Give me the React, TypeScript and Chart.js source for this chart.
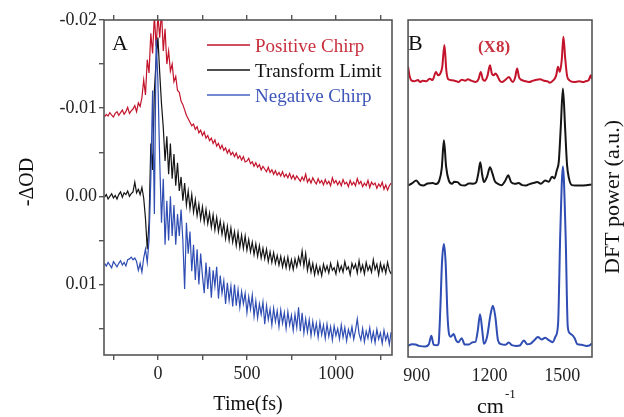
import { useEffect, useRef } from 'react';
import { Chart, registerables } from 'chart.js';

Chart.register(...registerables);

const FONT = "'Liberation Serif', 'Times New Roman', serif";

// ---------- Panel A: transient traces (ΔOD in units of 1e-3) ----------
const timeFs = [
  -300, -290, -280, -270, -260, -250, -240, -230, -220, -210, -200, -190, -180, -170, -160, -150, -140, -130, -120, -110,
  -100, -90, -80, -70, -60, -50, -40, -30, -20, -10, 0, 10, 20, 30, 40, 50, 60, 70, 80, 90,
  100, 110, 120, 130, 140, 150, 160, 170, 180, 190, 200, 210, 220, 230, 240, 250, 260, 270, 280, 290,
  300, 310, 320, 330, 340, 350, 360, 370, 380, 390, 400, 410, 420, 430, 440, 450, 460, 470, 480, 490,
  500, 510, 520, 530, 540, 550, 560, 570, 580, 590, 600, 610, 620, 630, 640, 650, 660, 670, 680, 690,
  700, 710, 720, 730, 740, 750, 760, 770, 780, 790, 800, 810, 820, 830, 840, 850, 860, 870, 880, 890,
  900, 910, 920, 930, 940, 950, 960, 970, 980, 990, 1000, 1010, 1020, 1030, 1040, 1050, 1060, 1070, 1080, 1090,
  1100, 1110, 1120, 1130, 1140, 1150, 1160, 1170, 1180, 1190, 1200, 1210, 1220, 1230, 1240, 1250, 1260, 1270, 1280, 1290,
  1300, 1310,
];

const positiveChirp = [
  -9.0, -9.3, -9.1, -9.5, -9.2, -9.0, -9.4, -9.6, -9.2, -9.5, -9.8, -9.3, -9.6, -10.1, -9.4, -9.7, -9.9, -10.3, -9.6, -10.6,
  -10.2, -11.2, -13.2, -11.5, -15.5, -14.0, -18.5, -16.2, -20.5, -17.0, -20.5, -18.0, -21.0, -16.5, -19.0, -15.0, -16.5, -14.2, -15.0, -13.0,
  -13.6, -12.0, -11.8, -10.8, -10.4, -9.8, -9.2, -8.8, -8.4, -8.0, -8.2, -7.6, -7.9, -7.2, -7.5, -6.9, -7.3, -6.6, -6.9, -6.3,
  -6.6, -6.0, -6.4, -5.7, -6.0, -5.4, -5.8, -5.2, -5.5, -4.9, -5.3, -4.7, -5.0, -4.5, -4.9, -4.3, -4.6, -4.1, -4.5, -3.9,
  -4.0, -4.3, -3.7, -3.9, -3.4, -3.8, -3.3, -3.6, -3.0, -3.4, -3.1, -2.8, -3.3, -2.7, -3.0, -2.5, -2.9, -2.4, -2.7, -2.3,
  -2.8, -2.2, -2.5, -2.1, -2.6, -2.0, -2.4, -1.9, -2.3, -2.0, -1.7, -2.2, -1.8, -2.5, -1.6, -2.0, -1.5, -2.1, -1.7, -1.4,
  -2.0, -1.5, -1.8, -1.3, -1.9, -1.4, -1.7, -1.2, -2.1, -1.5, -1.8, -1.3, -1.7, -1.2, -1.9, -1.4, -1.6, -1.1, -1.8, -1.3,
  -1.6, -1.2, -2.0, -1.4, -1.7, -1.1, -1.5, -1.2, -1.8, -1.0, -1.6, -1.3, -1.5, -0.9, -1.4, -1.1, -1.6, -0.8, -1.3, -0.7,
  -1.2, -1.5,
];

const transformLimit = [
  0.1, -0.2, 0.3, 0.0, -0.3, 0.2, -0.1, 0.3, -0.2, -0.5, 0.1, -0.4, -0.2, -0.6, 0.0, -0.3, -0.5, -1.6, -0.4, -0.8,
  -0.2, -1.0, 0.2, 2.5, 6.0, 3.0, -6.0, -3.0, -12.0, -15.5, -18.0, -14.0, -10.5, -7.8, -4.0, -6.8, -2.5, -6.0, -2.0, -4.8,
  -1.2, -3.8, -0.6, -2.2, 0.5, -1.5, 1.0, -0.6, 1.4, -0.2, 1.8, 0.4, 2.2, 0.9, 2.6, 1.2, 2.9, 1.5, 3.1, 1.9,
  3.5, 2.1, 3.8, 2.4, 4.0, 2.8, 4.3, 3.1, 4.8, 3.4, 5.0, 3.6, 5.2, 4.0, 5.6, 4.1, 5.8, 4.4, 5.9, 4.5,
  6.1, 4.9, 6.3, 5.2, 6.6, 5.4, 6.8, 5.6, 7.0, 5.9, 7.1, 6.0, 7.4, 6.3, 7.5, 6.4, 7.6, 6.7, 7.8, 6.8,
  8.0, 7.0, 8.1, 6.9, 8.2, 7.2, 8.3, 7.1, 8.0, 6.9, 7.7, 6.2, 7.9, 6.5, 8.4, 7.3, 8.6, 7.6, 8.9, 7.8,
  8.8, 8.0, 9.0, 7.7, 8.5, 7.9, 8.7, 7.6, 8.4, 8.1, 8.8, 7.5, 8.5, 7.9, 8.6, 7.4, 8.3, 8.0, 8.9, 7.6,
  8.2, 7.7, 8.7, 7.3, 8.5, 7.8, 8.8, 7.5, 8.4, 7.9, 8.6, 7.2, 8.3, 7.7, 8.9, 7.6, 8.5, 7.8, 8.7, 7.5,
  8.4, 8.8,
];

const negativeChirp = [
  7.6, 7.9, 7.5, 7.8, 8.1, 7.4, 7.7, 8.0, 7.6, 7.3, 7.8, 7.5, 7.9, 7.2, 7.1, 6.9, 7.2, 7.0, 7.4, 8.4,
  7.6, 8.6, 7.0, 6.0, 7.5, 5.0, -2.0, -12.0, 2.0, -17.8, -13.0, -4.0, 3.0, -2.0, 5.5, 0.5, 5.0, 0.0, 4.5, 1.0,
  5.5, 2.0, 4.5, 1.5, 5.0, 10.5, 3.0, 6.5, 4.0, 8.5, 5.5, 9.5, 6.0, 10.0, 6.5, 9.0, 11.0, 7.5, 10.5, 8.0,
  11.5, 8.4, 10.2, 8.0, 11.6, 9.0, 11.0, 9.6, 12.2, 9.8, 11.8, 10.2, 12.5, 10.0, 12.4, 10.6, 12.6, 10.8, 12.2, 11.0,
  13.2, 11.4, 12.8, 11.2, 13.6, 11.9, 13.8, 12.2, 13.4, 12.0, 14.5, 12.4, 14.0, 12.8, 14.6, 12.7, 14.2, 13.0, 14.8, 12.9,
  14.4, 13.2, 15.0, 13.1, 14.6, 13.5, 15.2, 13.4, 14.9, 12.6, 15.3, 13.2, 15.5, 13.9, 15.4, 14.0, 15.8, 14.2, 15.6, 14.4,
  16.0, 14.3, 15.7, 14.6, 16.1, 14.5, 15.9, 14.8, 16.3, 14.7, 15.8, 15.0, 16.2, 14.6, 16.0, 14.9, 16.4, 15.1, 15.9, 14.8,
  16.2, 15.2, 13.9, 15.6, 16.3, 15.0, 16.5, 15.3, 16.1, 14.9, 16.4, 15.4, 16.6, 15.1, 16.2, 15.5, 16.7, 15.2, 16.3, 15.6,
  16.8, 15.4,
];

const timeTicks = [-250, 0, 250, 500, 750, 1000, 1250];
const timeTickLabels = [0, 500, 1000];
const odTicks = [-20, -15, -10, -5, 0, 5, 10, 15];
const odTickLabels = [-20, -10, 0, 10];

// ---------- Panel B: DFT power spectra (a.u., vertically offset) ----------
const posWn = [864, 870, 877, 890, 905, 913, 925, 940, 953, 965, 979, 988, 996, 1005, 1014, 1022, 1030, 1045, 1060, 1072,
  1085, 1100, 1111, 1125, 1144, 1155, 1164, 1172, 1180, 1192, 1202, 1210, 1217, 1225, 1232, 1242, 1251, 1265, 1281, 1290,
  1297, 1306, 1314, 1322, 1330, 1345, 1363, 1380, 1395, 1409, 1425, 1440, 1449, 1462, 1475, 1483, 1490, 1498, 1505, 1512,
  1520, 1530, 1549, 1570, 1589, 1600, 1609, 1618, 1623];
const posPower = [86.1, 83.5, 82.1, 81.8, 82.2, 81.6, 82.0, 81.8, 82.6, 82.2, 84.6, 83.6, 84.0, 86.0, 92.6, 85.0, 82.4, 82.1, 81.9, 81.6,
  82.3, 82.0, 82.4, 82.0, 81.6, 82.5, 84.6, 82.5, 82.0, 83.5, 86.6, 84.0, 83.6, 84.1, 83.5, 82.0, 81.6, 82.2, 83.1, 82.0,
  81.6, 83.0, 85.6, 83.0, 82.3, 81.9, 81.6, 82.0, 82.3, 82.4, 82.0, 81.8, 81.4, 82.0, 83.5, 86.1, 84.6, 88.0, 95.0, 89.0,
  83.5, 82.1, 81.6, 81.8, 81.6, 81.9, 82.1, 83.6, 82.5];

const tlWn = [864, 880, 898, 912, 928, 945, 966, 980, 993, 1003, 1012, 1021, 1032, 1045, 1055, 1068, 1082, 1098, 1115, 1132,
  1145, 1154, 1162, 1170, 1177, 1190, 1202, 1212, 1222, 1235, 1250, 1265, 1277, 1290, 1305, 1320, 1335, 1351, 1365, 1380,
  1397, 1412, 1430, 1445, 1458, 1468, 1478, 1486, 1494, 1503, 1512, 1520, 1528, 1540, 1555, 1575, 1600, 1622];
const tlPower = [50.9, 51.5, 52.4, 51.2, 50.9, 51.5, 51.6, 51.3, 52.4, 56.0, 64.3, 56.5, 52.4, 51.4, 52.0, 51.9, 51.0, 50.9, 51.5, 51.4,
  51.8, 54.5, 57.8, 54.0, 51.9, 53.5, 56.3, 54.5, 52.2, 51.4, 51.0, 52.3, 53.9, 51.8, 51.4, 51.6, 51.0, 50.9, 51.3, 51.6,
  51.9, 51.4, 52.4, 52.0, 53.5, 53.0, 55.5, 58.0, 68.0, 79.7, 68.0, 57.0, 53.0, 51.0, 50.9, 50.9, 51.0, 51.2];

const negWn = [864, 880, 895, 910, 935, 950, 960, 970, 985, 990, 997, 1004, 1012, 1019, 1027, 1034, 1040, 1052, 1062, 1072,
  1085, 1098, 1115, 1130, 1142, 1152, 1161, 1170, 1177, 1190, 1204, 1214, 1224, 1235, 1248, 1265, 1280, 1292, 1310, 1325,
  1342, 1355, 1370, 1385, 1400, 1415, 1430, 1445, 1460, 1472, 1483, 1492, 1503, 1514, 1523, 1532, 1542, 1552, 1562, 1580,
  1600, 1612, 1622];
const negPower = [3.3, 3.8, 3.7, 3.3, 3.1, 3.8, 6.3, 3.6, 3.5, 4.0, 14.0, 28.0, 33.5, 28.0, 12.0, 6.5, 6.0, 6.8, 5.0, 4.4,
  5.6, 3.7, 3.7, 4.4, 4.5, 8.0, 12.7, 8.0, 3.9, 6.0, 12.5, 15.2, 12.0, 5.0, 3.8, 3.6, 4.3, 3.5, 3.3, 3.4,
  4.9, 3.8, 4.0, 5.0, 5.9, 5.2, 5.7, 5.0, 4.4, 6.0, 9.8, 36.5, 56.5, 36.5, 9.0, 7.0, 6.5, 5.5, 3.8, 3.6,
  3.3, 3.4, 4.0];

const wnTicks = [900, 1200, 1500];

const RED = '#c3142c';
const BLACK = '#151515';
const BLUE = '#2f4db3';
const AXIS = '#555555';

const tickFont = { family: FONT, size: 18 };

function pts(xs: number[], ys: number[]) {
  return xs.map((x, i) => ({ x, y: ys[i] }));
}

const panelAText = {
  id: 'panelAText',
  afterDraw(chart: any) {
    const { ctx, chartArea: a } = chart;
    ctx.save();
    ctx.strokeStyle = AXIS;
    ctx.lineWidth = 1.6;
    ctx.strokeRect(a.left, a.top, a.right - a.left, a.bottom - a.top);

    ctx.fillStyle = '#111';
    ctx.font = `22px ${FONT}`;
    ctx.textAlign = 'left';
    ctx.textBaseline = 'alphabetic';
    ctx.fillText('A', 112, 50);

    const entries = [
      { label: 'Positive Chirp', line: RED, text: '#c8303e', y: 45 },
      { label: 'Transform Limit', line: BLACK, text: '#111', y: 70 },
      { label: 'Negative Chirp', line: '#4563c4', text: '#3d55b8', y: 95 },
    ];
    ctx.font = `19px ${FONT}`;
    entries.forEach((e) => {
      ctx.strokeStyle = e.line;
      ctx.lineWidth = 1.5;
      ctx.beginPath();
      ctx.moveTo(207, e.y);
      ctx.lineTo(250, e.y);
      ctx.stroke();
      ctx.fillStyle = e.text;
      ctx.fillText(e.label, 255, e.y + 7);
    });

    ctx.fillStyle = '#111';
    ctx.font = `20px ${FONT}`;
    ctx.textAlign = 'center';
    ctx.fillText('Time(fs)', 248, 410);

    ctx.translate(28, 182);
    ctx.rotate(-Math.PI / 2);
    ctx.textBaseline = 'middle';
    ctx.fillText('-\u0394OD', 0, 0);
    ctx.restore();
  },
};

const panelBText = {
  id: 'panelBText',
  afterDraw(chart: any) {
    const { ctx, chartArea: a } = chart;
    ctx.save();
    ctx.strokeStyle = AXIS;
    ctx.lineWidth = 1.6;
    ctx.strokeRect(a.left, a.top, a.right - a.left, a.bottom - a.top);

    ctx.fillStyle = '#111';
    ctx.font = `22px ${FONT}`;
    ctx.textAlign = 'left';
    ctx.textBaseline = 'alphabetic';
    ctx.fillText('B', 13, 50);

    ctx.fillStyle = '#c8303e';
    ctx.font = `bold 17px ${FONT}`;
    ctx.textAlign = 'center';
    ctx.fillText('(X8)', 99, 52);

    ctx.fillStyle = '#111';
    ctx.textAlign = 'left';
    ctx.font = `22px ${FONT}`;
    ctx.fillText('cm', 82, 413);
    const w = ctx.measureText('cm').width;
    ctx.font = `13px ${FONT}`;
    ctx.fillText('-1', 82 + w + 1, 398);

    ctx.font = `22px ${FONT}`;
    ctx.textAlign = 'center';
    ctx.textBaseline = 'middle';
    ctx.translate(218, 197);
    ctx.rotate(-Math.PI / 2);
    ctx.fillText('DFT power (a.u.)', 0, 0);
    ctx.restore();
  },
};

export default function App() {
  const refA = useRef<HTMLCanvasElement | null>(null);
  const refB = useRef<HTMLCanvasElement | null>(null);

  useEffect(() => {
    if (!refA.current || !refB.current) return;
    const gridCommon = {
      drawOnChartArea: false,
      drawTicks: true,
      tickLength: 5,
      color: AXIS,
      lineWidth: 1.4,
    };

    const chartA = new Chart(refA.current, {
      type: 'line',
      data: {
        datasets: [
          { label: 'Negative Chirp', data: pts(timeFs, negativeChirp), borderColor: BLUE, borderWidth: 1.2, pointRadius: 0, tension: 0 },
          { label: 'Transform Limit', data: pts(timeFs, transformLimit), borderColor: BLACK, borderWidth: 1.2, pointRadius: 0, tension: 0 },
          { label: 'Positive Chirp', data: pts(timeFs, positiveChirp), borderColor: RED, borderWidth: 1.2, pointRadius: 0, tension: 0 },
        ],
      },
      options: {
        animation: false,
        responsive: false,
        devicePixelRatio: 1,
        layout: { padding: { left: 0, top: 20, right: 8, bottom: 0 } },
        plugins: { legend: { display: false }, tooltip: { enabled: false } },
        scales: {
          x: {
            type: 'linear',
            position: 'bottom',
            min: -303,
            max: 1315,
            afterBuildTicks: (s: any) => { s.ticks = timeTicks.map((v) => ({ value: v })); },
            afterFit: (s: any) => { s.height = 62; },
            grid: gridCommon,
            border: { display: false },
            ticks: {
              autoSkip: false,
              maxRotation: 0,
              padding: 3,
              color: '#222',
              font: tickFont,
              callback: (v: any) => (timeTickLabels.includes(Number(v)) ? String(v) : ''),
            },
          },
          x2: {
            type: 'linear',
            position: 'top',
            min: -303,
            max: 1315,
            afterBuildTicks: (s: any) => { s.ticks = timeTicks.map((v) => ({ value: v })); },
            afterFit: (s: any) => { s.height = 0; },
            grid: gridCommon,
            border: { display: false },
            ticks: { display: false },
          },
          y: {
            type: 'linear',
            position: 'left',
            reverse: true,
            min: -20,
            max: 18,
            afterBuildTicks: (s: any) => { s.ticks = odTicks.map((v) => ({ value: v })); },
            afterFit: (s: any) => { s.width = 104; },
            grid: gridCommon,
            border: { display: false },
            ticks: {
              autoSkip: false,
              padding: 2,
              color: '#222',
              font: tickFont,
              callback: (v: any) => (odTickLabels.includes(Number(v)) ? (Number(v) / 1000).toFixed(2) : ''),
            },
          },
        },
      },
      plugins: [panelAText],
    });

    const specCommon = { pointRadius: 0, borderWidth: 2, cubicInterpolationMode: 'monotone' as const };
    const chartB = new Chart(refB.current, {
      type: 'line',
      data: {
        datasets: [
          { label: 'Positive Chirp (X8)', data: pts(posWn, posPower), borderColor: RED, ...specCommon },
          { label: 'Transform Limit', data: pts(tlWn, tlPower), borderColor: BLACK, ...specCommon },
          { label: 'Negative Chirp', data: pts(negWn, negPower), borderColor: BLUE, ...specCommon },
        ],
      },
      options: {
        animation: false,
        responsive: false,
        devicePixelRatio: 1,
        layout: { padding: { left: 6, top: 20, right: 32, bottom: 0 } },
        plugins: { legend: { display: false }, tooltip: { enabled: false } },
        scales: {
          x: {
            type: 'linear',
            position: 'bottom',
            min: 864,
            max: 1623,
            afterBuildTicks: (s: any) => { s.ticks = wnTicks.map((v) => ({ value: v })); },
            afterFit: (s: any) => { s.height = 60; },
            grid: { drawOnChartArea: false, drawTicks: false },
            border: { display: false },
            ticks: {
              autoSkip: false,
              maxRotation: 0,
              padding: 8,
              color: '#222',
              font: tickFont,
              callback: (v: any) => String(v),
            },
          },
          y: { type: 'linear', min: 0, max: 100, display: false },
        },
      },
      plugins: [panelBText],
    });

    return () => {
      chartA.destroy();
      chartB.destroy();
    };
  }, []);

  return (
    <div style={{ position: 'absolute', left: 0, top: 0, width: 624, height: 417, background: '#fff' }}>
      <canvas ref={refA} width={400} height={417} style={{ position: 'absolute', left: 0, top: 0, width: 400, height: 417 }} />
      <canvas ref={refB} width={229} height={417} style={{ position: 'absolute', left: 395, top: 0, width: 229, height: 417 }} />
    </div>
  );
}
